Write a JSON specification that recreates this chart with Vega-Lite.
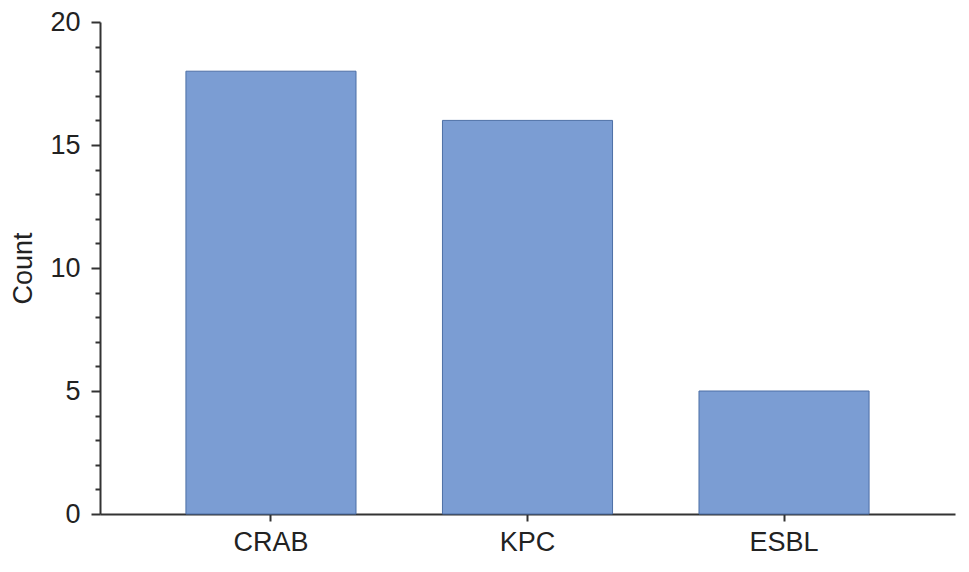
{
  "$schema": "https://vega.github.io/schema/vega-lite/v6.json",
  "autosize": "none",
  "padding": {"left": 100, "top": 22, "right": 14, "bottom": 58},
  "width": 855,
  "height": 492,
  "background": "white",
  "config": {"view": {"stroke": null}, "font": "Liberation Sans"},
  "data": {"values": [
    {"type": "CRAB", "count": 18},
    {"type": "KPC", "count": 16},
    {"type": "ESBL", "count": 5}
  ]},
  "mark": {"type": "bar", "color": "#7b9dd3", "stroke": "#4d6fa6", "strokeWidth": 1},
  "encoding": {
    "x": {"field": "type", "type": "nominal", "sort": ["CRAB", "KPC", "ESBL"],
      "scale": {"paddingInner": 0.337, "paddingOuter": 0.335},
      "axis": {"title": null, "labelAngle": 0, "labelFontSize": 27, "labelColor": "#222", "labelPadding": 8,
        "domainColor": "#333", "domainWidth": 2, "tickColor": "#333", "tickWidth": 2, "tickSize": 7}},
    "y": {"field": "count", "type": "quantitative",
      "scale": {"domain": [0, 20]},
      "axis": {"title": "Count", "titleFontSize": 27, "titleFontWeight": "normal", "titleColor": "#222", "titlePadding": 12,
        "values": [0,1,2,3,4,5,6,7,8,9,10,11,12,13,14,15,16,17,18,19,20],
        "labelExpr": "datum.value % 5 === 0 ? datum.label : ''",
        "labelFontSize": 27, "labelColor": "#222", "labelPadding": 11,
        "grid": false, "domainColor": "#333", "domainWidth": 2, "tickColor": "#333", "tickWidth": 2,
        "tickSize": {"condition": {"test": "datum.value % 5 === 0", "value": 9}, "value": 5}}}
  }
}
